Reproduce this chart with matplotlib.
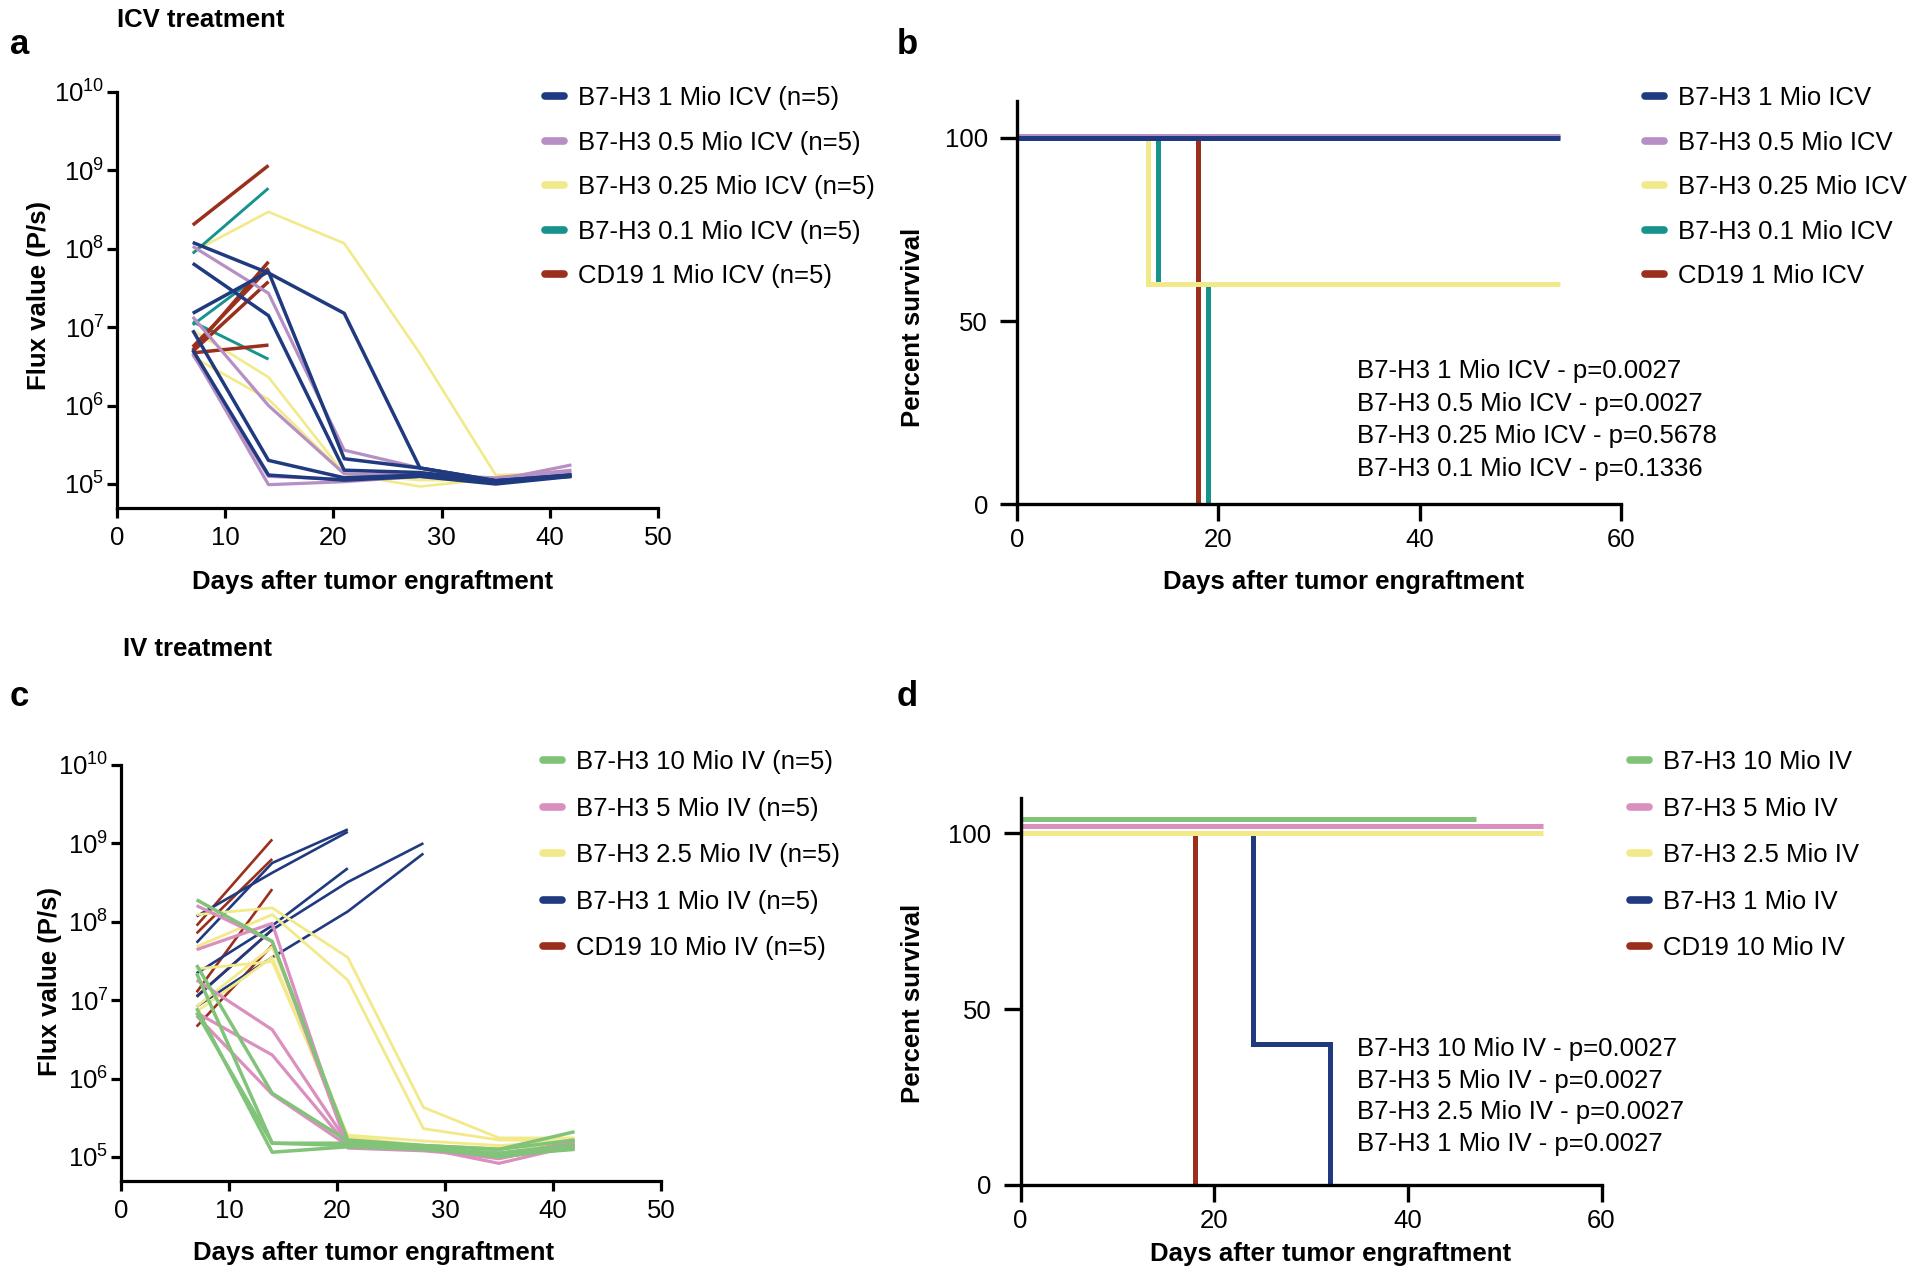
import matplotlib
matplotlib.use("Agg")
import numpy as np
import matplotlib.pyplot as plt
from matplotlib.lines import Line2D
import matplotlib.transforms as mtransforms
from matplotlib.ticker import NullLocator

plt.rcParams['font.family'] = ['Liberation Sans', 'DejaVu Sans']
plt.rcParams['mathtext.fontset'] = 'custom'
plt.rcParams['mathtext.rm'] = 'Liberation Sans'
plt.rcParams['mathtext.it'] = 'Liberation Sans:italic'
plt.rcParams['mathtext.bf'] = 'Liberation Sans:bold'
FS = 18.5
nan = np.nan

# ---------------- data ----------------
days = [7, 14, 21, 28, 35, 42]

# Panel a: ICV treatment, flux per mouse (P/s)
icv_b7h3_1mio = [
    [1.2e8, 4.9e7, 1.5e7, 1.6e5, 1.1e5, 1.25e5],
    [6.5e7, 1.4e7, 1.5e5, 1.4e5, 1.1e5, 1.3e5],
    [1.5e7, 5.1e7, 2.1e5, 1.6e5, 1.1e5, 1.3e5],
    [9.1e6, 2.0e5, 1.2e5, 1.3e5, 1.05e5, 1.3e5],
    [5.1e6, 1.3e5, 1.12e5, 1.25e5, 1.0e5, 1.25e5],
]
icv_b7h3_05mio = [
    [1.07e8, 2.7e7, 2.7e5, 1.6e5, 1.12e5, 1.75e5],
    [1.35e7, 1.0e6, 1.35e5, 1.3e5, 1.2e5, 1.5e5],
    [4.7e6, 9.8e4, 1.07e5, 1.25e5, 1.12e5, 1.4e5],
    [4.5e6, 1.25e5, 1.15e5, 1.25e5, 1.07e5, 1.3e5],
]
icv_b7h3_025mio = [
    [9.1e7, 2.95e8, 1.17e8, 4.6e6, 1.3e5, 1.4e5],
    [9.1e6, 2.3e6, 1.35e5, 9.3e4, 1.17e5, 1.3e5],
    [4.2e6, 1.2e6, 1.35e5, 1.12e5, 1.12e5, 1.3e5],
]
icv_b7h3_01mio = [
    [8.7e7, 5.9e8, nan, nan, nan, nan],
    [1.07e7, 5.6e7, nan, nan, nan, nan],
    [1.17e7, 3.9e6, nan, nan, nan, nan],
]
icv_cd19_1mio = [
    [2.0e8, 1.15e9, nan, nan, nan, nan],
    [5.1e6, 6.8e7, nan, nan, nan, nan],
    [5.6e6, 5.6e7, nan, nan, nan, nan],
    [4.9e6, 3.8e7, nan, nan, nan, nan],
    [4.7e6, 5.9e6, nan, nan, nan, nan],
]

# Panel c: IV treatment, flux per mouse (P/s)
iv_b7h3_10mio = [
    [1.9e8, 5.6e7, 1.65e5, 1.4e5, 1.25e5, 2.1e5],
    [2.8e7, 6.5e5, 1.6e5, 1.3e5, 1.0e5, 1.3e5],
    [2.2e7, 1.5e5, 1.4e5, 1.3e5, 1.12e5, 1.45e5],
    [7.9e6, 1.15e5, 1.35e5, 1.25e5, 1.05e5, 1.25e5],
    [6.9e6, 1.5e5, 1.5e5, 1.4e5, 1.25e5, 1.65e5],
]
iv_b7h3_5mio = [
    [1.6e8, 5.6e7, 1.35e5, 1.25e5, 9.5e4, 1.5e5],
    [4.4e7, 9.5e7, 1.3e5, 1.2e5, 1.0e5, 1.3e5],
    [1.8e7, 4.2e6, 1.5e5, 1.3e5, 8.3e4, 1.4e5],
    [6.9e6, 2.0e6, 1.4e5, 1.25e5, 1.0e5, 1.6e5],
    [6.3e6, 6.3e5, 1.4e5, 1.25e5, 1.12e5, 1.4e5],
]
iv_b7h3_25mio = [
    [1.23e8, 1.5e8, 3.5e7, 4.3e5, 1.75e5, 1.75e5],
    [4.8e7, 1.23e8, 1.8e7, 2.3e5, 1.65e5, 1.6e5],
    [2.5e7, 3.1e7, 1.9e5, 1.6e5, 1.4e5, 1.6e5],
    [8.3e6, 4.8e7, 1.8e5, 1.4e5, 1.3e5, 1.4e5],
    [7.1e6, 3.5e7, 1.65e5, 1.4e5, 1.25e5, 1.65e5],
]
iv_b7h3_1mio = [
    [1.17e8, 4.2e8, 1.4e9, nan, nan, nan],
    [5.4e7, 5.6e8, 1.5e9, nan, nan, nan],
    [2.2e7, 8.9e7, 4.8e8, nan, nan, nan],
    [1.1e7, 7.9e7, 3.2e8, 1.0e9, nan, nan],
    [8.3e6, 3.5e7, 1.35e8, 7.4e8, nan, nan],
]
iv_cd19_10mio = [
    [8.9e7, 1.12e9, nan, nan, nan, nan],
    [7.1e7, 6.3e8, nan, nan, nan, nan],
    [1.26e7, 2.6e8, nan, nan, nan, nan],
    [1.12e7, 7.9e7, nan, nan, nan, nan],
    [4.6e6, 5.0e7, nan, nan, nan, nan],
]

# Panel b: Kaplan-Meier survival ICV (steps: time, percent)
surv_icv_t = {
    'B7-H3 1 Mio ICV': [0, 54],
    'B7-H3 0.5 Mio ICV': [0, 54],
    'B7-H3 0.25 Mio ICV': [0, 13, 54],
    'B7-H3 0.1 Mio ICV': [0, 14, 19],
    'CD19 1 Mio ICV': [0, 18],
}
surv_icv_s = {
    'B7-H3 1 Mio ICV': [100, 100],
    'B7-H3 0.5 Mio ICV': [100, 100],
    'B7-H3 0.25 Mio ICV': [100, 60, 60],
    'B7-H3 0.1 Mio ICV': [100, 60, 0],
    'CD19 1 Mio ICV': [100, 0],
}
pvals_icv = ['B7-H3 1 Mio ICV - p=0.0027', 'B7-H3 0.5 Mio ICV - p=0.0027',
             'B7-H3 0.25 Mio ICV - p=0.5678', 'B7-H3 0.1 Mio ICV - p=0.1336']

# Panel d: Kaplan-Meier survival IV
surv_iv_t = {
    'B7-H3 10 Mio IV': [0, 47],
    'B7-H3 5 Mio IV': [0, 54],
    'B7-H3 2.5 Mio IV': [0, 54],
    'B7-H3 1 Mio IV': [0, 24, 32],
    'CD19 10 Mio IV': [0, 18],
}
surv_iv_s = {
    'B7-H3 10 Mio IV': [100, 100],
    'B7-H3 5 Mio IV': [100, 100],
    'B7-H3 2.5 Mio IV': [100, 100],
    'B7-H3 1 Mio IV': [100, 40, 0],
    'CD19 10 Mio IV': [100, 0],
}
pvals_iv = ['B7-H3 10 Mio IV - p=0.0027', 'B7-H3 5 Mio IV - p=0.0027',
            'B7-H3 2.5 Mio IV - p=0.0027', 'B7-H3 1 Mio IV - p=0.0027']

# ---------------- styles ----------------
NAVY = '#1f3a7e'
LILAC = '#b690c4'
YELLOW = '#f2ea8a'
TEAL = '#17938d'
BROWN = '#9b2f1d'
GREEN = '#82c37a'
PINK = '#db8fbf'

fig = plt.figure(figsize=(19.2, 12.82), dpi=100)
W, H = 1920.0, 1282.0


def fax(l, t, r, b):
    return fig.add_axes([l / W, 1 - b / H, (r - l) / W, (b - t) / H])


def style_flux(ax):
    ax.set_yscale('log')
    ax.set_xlim(0, 50)
    ax.set_ylim(10 ** 4.694, 1e10)
    ax.set_xticks([0, 10, 20, 30, 40, 50])
    ax.set_yticks([1e5, 1e6, 1e7, 1e8, 1e9, 1e10])
    ax.yaxis.set_minor_locator(NullLocator())
    for s in ['top', 'right']:
        ax.spines[s].set_visible(False)
    for s in ['left', 'bottom']:
        ax.spines[s].set_linewidth(2.3)
    ax.tick_params(axis='both', width=2.3, length=7, labelsize=FS)
    ax.tick_params(axis='x', pad=6)
    ax.tick_params(axis='y', pad=2)
    ax.set_xlabel('Days after tumor engraftment', fontsize=FS, fontweight='bold')
    ax.set_ylabel('Flux value (P/s)', fontsize=FS, fontweight='bold')


def style_surv(ax):
    ax.set_xlim(0, 60)
    ax.set_ylim(0, 110)
    ax.set_xticks([0, 20, 40, 60])
    ax.set_yticks([0, 50, 100])
    for s in ['top', 'right']:
        ax.spines[s].set_visible(False)
    for s in ['left', 'bottom']:
        ax.spines[s].set_linewidth(2.4)
    ax.tick_params(axis='both', width=2.4, length=12, labelsize=FS)
    ax.tick_params(axis='x', pad=5)
    ax.tick_params(axis='y', pad=9)
    ax.set_xlabel('Days after tumor engraftment', fontsize=FS, fontweight='bold')
    ax.set_ylabel('Percent survival', fontsize=FS, fontweight='bold')


def legend(labels, colors, x, y, spacing):
    handles = [Line2D([], [], color=c, lw=5.5, solid_capstyle='round') for c in colors]
    fig.legend(handles, labels, loc='upper left', bbox_to_anchor=(x / W, 1 - y / H),
               frameon=False, borderpad=0, borderaxespad=0, handlelength=0.75,
               handletextpad=0.55, labelspacing=spacing, fontsize=FS)


def plot_group(ax, rows, color, lw):
    for r in rows:
        ax.plot(days, r, color=color, lw=lw, solid_joinstyle='round', solid_capstyle='butt')


# ---------------- panel a ----------------
axa = fax(117, 91.8, 658, 508)
plot_group(axa, icv_b7h3_025mio, YELLOW, 1.9)
plot_group(axa, icv_b7h3_01mio, TEAL, 2.1)
plot_group(axa, icv_cd19_1mio, BROWN, 2.5)
plot_group(axa, icv_b7h3_05mio, LILAC, 2.3)
plot_group(axa, icv_b7h3_1mio, NAVY, 2.5)
style_flux(axa)
axa.yaxis.set_label_coords(-0.144, 0.51)
axa.xaxis.set_label_coords(0.473, -0.177)
axa.xaxis.label.set_va('center')
axa.yaxis.label.set_va('center')
legend(['B7-H3 1 Mio ICV (n=5)', 'B7-H3 0.5 Mio ICV (n=5)', 'B7-H3 0.25 Mio ICV (n=5)',
        'B7-H3 0.1 Mio ICV (n=5)', 'CD19 1 Mio ICV (n=5)'],
       [NAVY, LILAC, YELLOW, TEAL, BROWN], 545, 86, 0.80)

# ---------------- panel c ----------------
axc = fax(121, 764.8, 661, 1181)
plot_group(axc, iv_cd19_10mio, BROWN, 1.9)
plot_group(axc, iv_b7h3_1mio, NAVY, 1.9)
plot_group(axc, iv_b7h3_25mio, YELLOW, 2.0)
plot_group(axc, iv_b7h3_5mio, PINK, 2.3)
plot_group(axc, iv_b7h3_10mio, GREEN, 2.5)
style_flux(axc)
axc.yaxis.set_label_coords(-0.132, 0.48)
axc.xaxis.set_label_coords(0.467, -0.173)
axc.xaxis.label.set_va('center')
axc.yaxis.label.set_va('center')
legend(['B7-H3 10 Mio IV (n=5)', 'B7-H3 5 Mio IV (n=5)', 'B7-H3 2.5 Mio IV (n=5)',
        'B7-H3 1 Mio IV (n=5)', 'CD19 10 Mio IV (n=5)'],
       [GREEN, PINK, YELLOW, NAVY, BROWN], 543, 750, 0.88)

# ---------------- panel b ----------------
axb = fax(1017.3, 101.3, 1620.7, 504.2)
order_b = ['CD19 1 Mio ICV', 'B7-H3 0.1 Mio ICV', 'B7-H3 0.25 Mio ICV',
           'B7-H3 0.5 Mio ICV', 'B7-H3 1 Mio ICV']
col_b = {'B7-H3 1 Mio ICV': NAVY, 'B7-H3 0.5 Mio ICV': LILAC, 'B7-H3 0.25 Mio ICV': YELLOW,
         'B7-H3 0.1 Mio ICV': TEAL, 'CD19 1 Mio ICV': BROWN}
off_b = {'B7-H3 0.5 Mio ICV': 1.6}
for k in order_b:
    tr = axb.transData + mtransforms.ScaledTranslation(0, off_b.get(k, 0) / 72, fig.dpi_scale_trans)
    axb.plot(surv_icv_t[k], surv_icv_s[k], drawstyle='steps-post', color=col_b[k], lw=3.6,
             clip_on=False, transform=tr, solid_capstyle='butt', solid_joinstyle='miter')
style_surv(axb)
axb.yaxis.set_label_coords(-0.173, 0.44)
axb.xaxis.set_label_coords(0.541, -0.192)
axb.xaxis.label.set_va('center')
axb.yaxis.label.set_va('center')
legend(list(col_b.keys()), list(col_b.values()), 1645, 86, 0.80)
for i, t in enumerate(pvals_icv):
    fig.text(1357 / W, 1 - (371 + 32.6 * i) / H, t, fontsize=FS, va='center', ha='left')

# ---------------- panel d ----------------
axd = fax(1020.6, 797.9, 1601.5, 1185)
order_d = ['CD19 10 Mio IV', 'B7-H3 1 Mio IV', 'B7-H3 2.5 Mio IV',
           'B7-H3 5 Mio IV', 'B7-H3 10 Mio IV']
col_d = {'B7-H3 10 Mio IV': GREEN, 'B7-H3 5 Mio IV': PINK, 'B7-H3 2.5 Mio IV': YELLOW,
         'B7-H3 1 Mio IV': NAVY, 'CD19 10 Mio IV': BROWN}
off_d = {'B7-H3 10 Mio IV': 10.3, 'B7-H3 5 Mio IV': 5.2}
for k in order_d:
    tr = axd.transData + mtransforms.ScaledTranslation(0, off_d.get(k, 0) / 72, fig.dpi_scale_trans)
    axd.plot(surv_iv_t[k], surv_iv_s[k], drawstyle='steps-post', color=col_d[k], lw=3.6,
             clip_on=False, transform=tr, solid_capstyle='butt', solid_joinstyle='miter')
style_surv(axd)
axd.yaxis.set_label_coords(-0.185, 0.468)
axd.xaxis.set_label_coords(0.534, -0.178)
axd.xaxis.label.set_va('center')
axd.yaxis.label.set_va('center')
legend(list(col_d.keys()), list(col_d.values()), 1630, 750, 0.88)
for i, t in enumerate(pvals_iv):
    fig.text(1357 / W, 1 - (1049.4 + 31.4 * i) / H, t, fontsize=FS, va='center', ha='left')

# ---------------- headings ----------------
fig.text(117 / W, 1 - 20 / H, 'ICV treatment', fontsize=FS, fontweight='bold', va='center')
fig.text(123 / W, 1 - 649.5 / H, 'IV treatment', fontsize=FS, fontweight='bold', va='center')
for letter, x, y in [('a', 10, 45), ('b', 897, 45), ('c', 10, 697), ('d', 897, 697)]:
    fig.text(x / W, 1 - y / H, letter, fontsize=25, fontweight='bold', va='center')

fig.savefig('out.png', dpi=100)
